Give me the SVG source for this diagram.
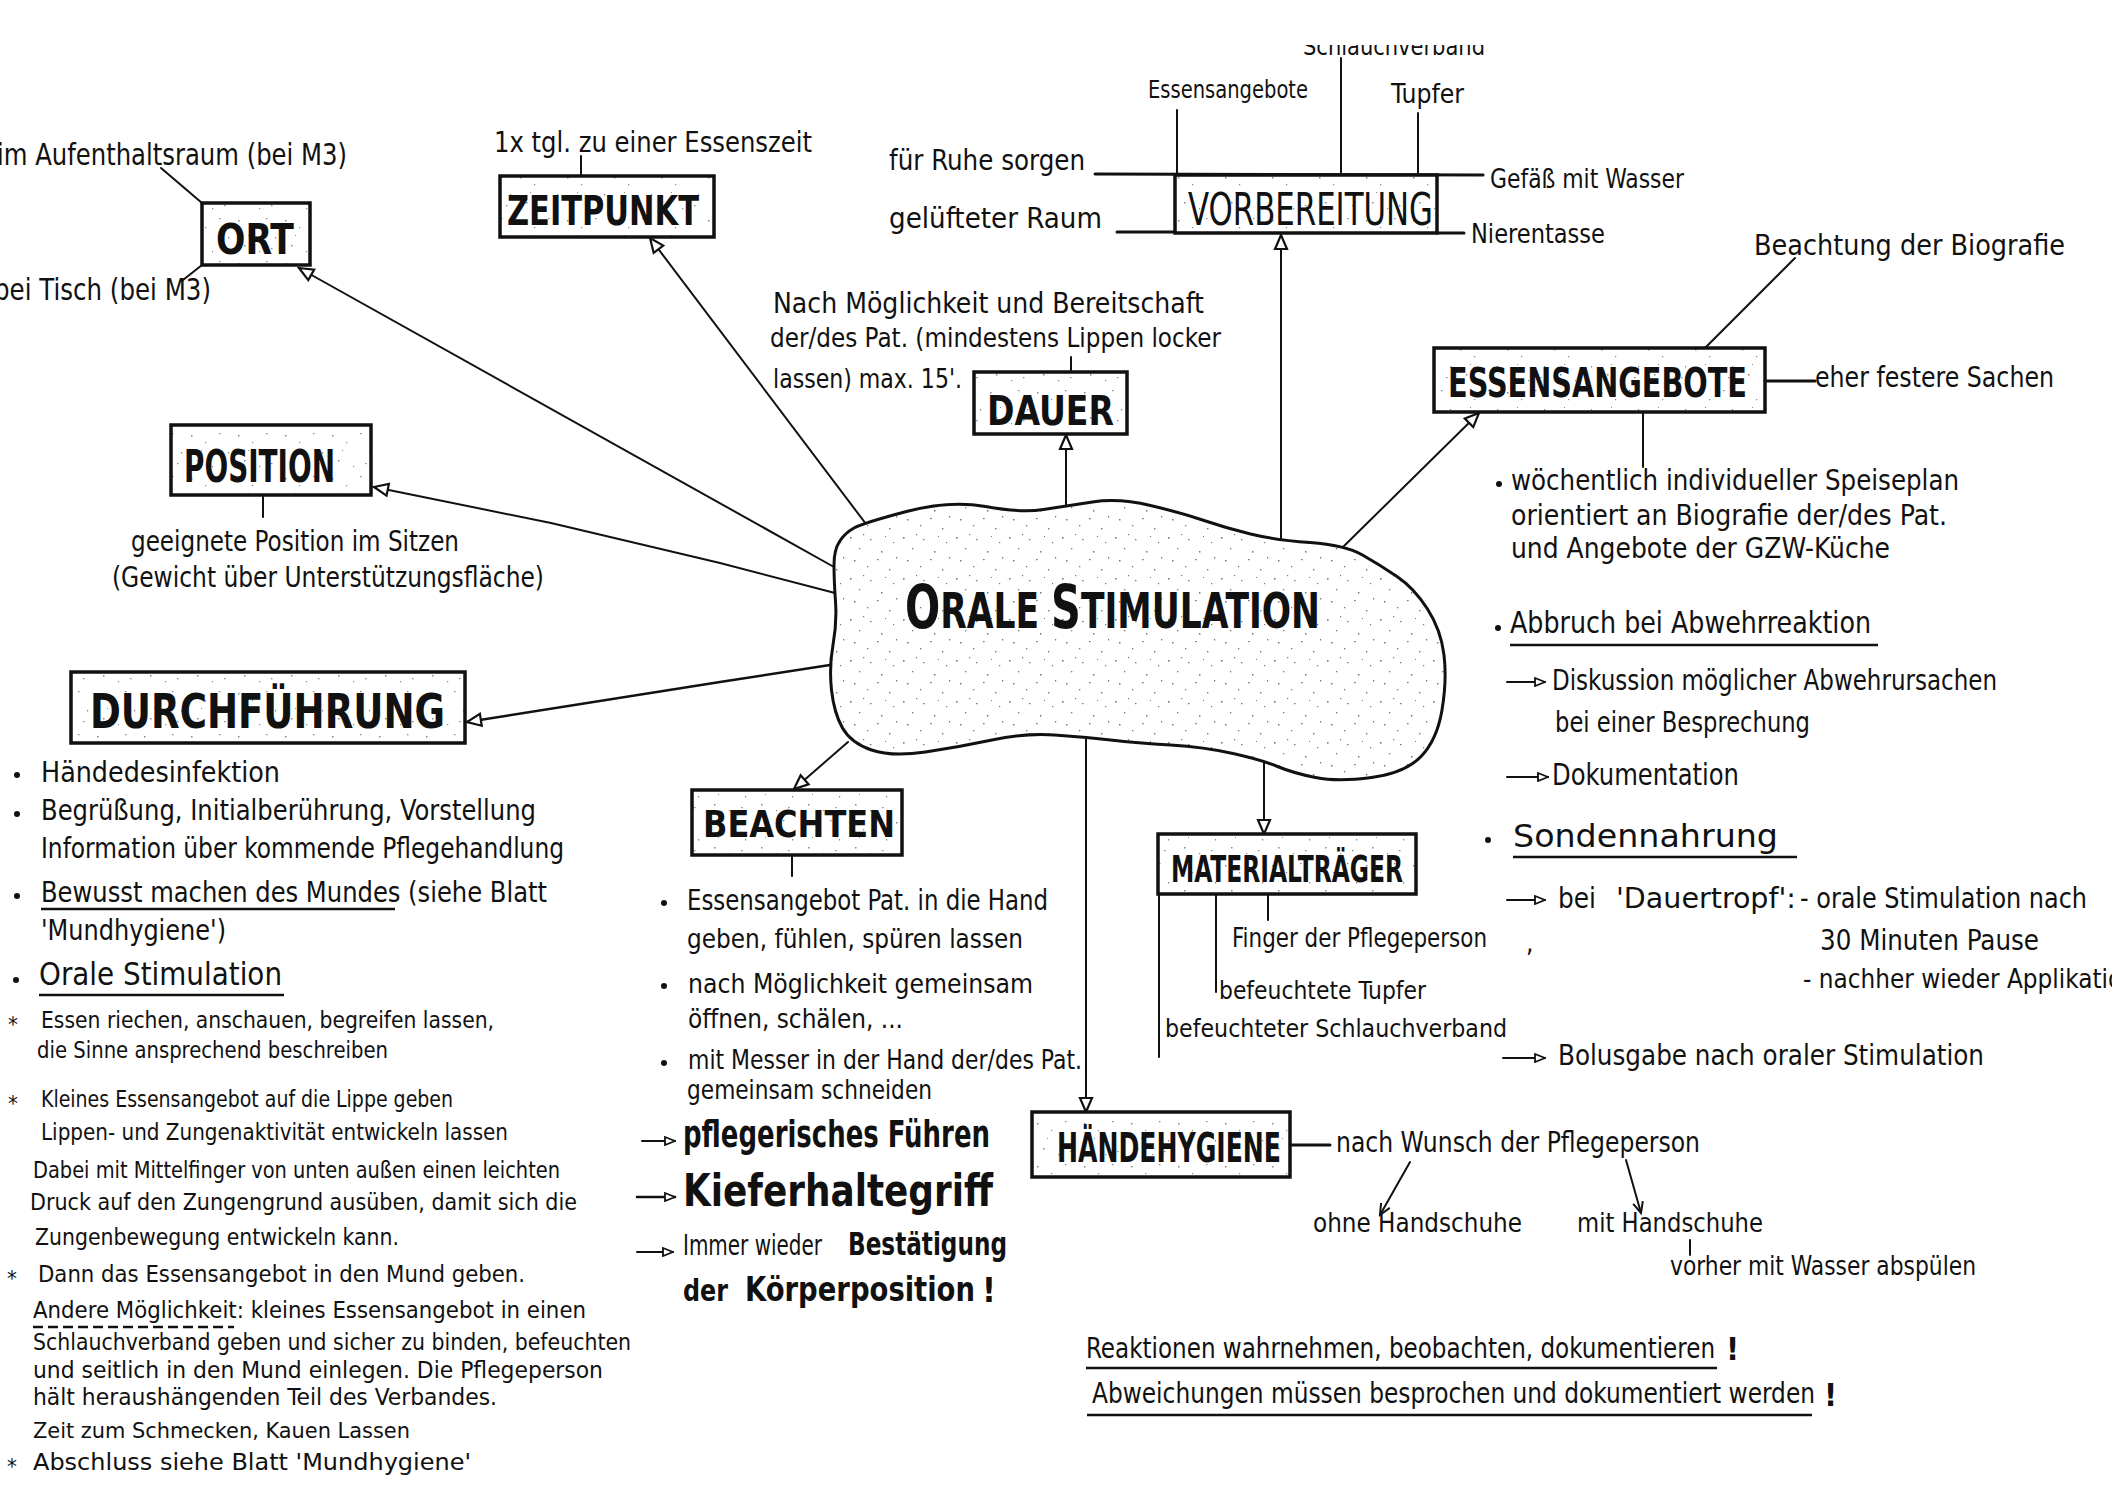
<svg xmlns="http://www.w3.org/2000/svg" width="2112" height="1485" viewBox="0 0 2112 1485">
<style>
.t{font-family:"DejaVu Sans Condensed","DejaVu Sans","Liberation Sans",sans-serif;fill:#111}
.b{font-family:"DejaVu Sans Condensed","DejaVu Sans","Liberation Sans",sans-serif;fill:#111;font-weight:bold}
.ln{stroke:#111;stroke-width:2;fill:none;stroke-linecap:round}
.tk{stroke:#111;stroke-width:3;fill:none;stroke-linecap:round}
.box{fill:url(#speck);stroke:#111;stroke-width:3.5}
.ul{stroke:#111;stroke-width:2.5;fill:none}
</style>
<defs>
<pattern id="speck" width="47" height="43" patternUnits="userSpaceOnUse">
<rect width="47" height="43" fill="#fff"/>
<g fill="#888">
<rect x="3" y="5" width="1.5" height="1.5"/><rect x="17" y="12" width="1.2" height="1.2"/><rect x="31" y="3" width="1.5" height="1.2"/>
<rect x="40" y="22" width="1.2" height="1.5"/><rect x="9" y="30" width="1.5" height="1.5"/><rect x="24" y="36" width="1.2" height="1.2"/>
<rect x="36" y="33" width="1.5" height="1.2"/><rect x="13" y="20" width="1" height="1"/>
</g>
</pattern>
<pattern id="speck2" width="53" height="41" patternUnits="userSpaceOnUse">
<rect width="53" height="41" fill="#fff"/>
<g fill="#777">
<rect x="2" y="4" width="1.6" height="1.6"/><rect x="11" y="15" width="1.3" height="1.3"/><rect x="22" y="6" width="1.5" height="1.2"/>
<rect x="33" y="18" width="1.4" height="1.6"/><rect x="45" y="9" width="1.2" height="1.2"/><rect x="6" y="27" width="1.5" height="1.5"/>
<rect x="19" y="33" width="1.3" height="1.3"/><rect x="29" y="26" width="1.6" height="1.2"/><rect x="41" y="36" width="1.4" height="1.4"/>
<rect x="48" y="24" width="1.2" height="1.5"/><rect x="15" y="1" width="1.2" height="1.2"/><rect x="37" y="3" width="1" height="1"/>
</g>
</pattern>
<marker id="ah" markerWidth="18" markerHeight="16" refX="16" refY="8" orient="auto" markerUnits="userSpaceOnUse">
<path d="M2,2 L16,8 L2,14 Z" fill="#fff" stroke="#111" stroke-width="2.2"/>
</marker>
<marker id="ta" markerWidth="12" markerHeight="10" refX="11" refY="5" orient="auto" markerUnits="userSpaceOnUse">
<path d="M1,1 L11,5 L1,9 Z" fill="#fff" stroke="#111" stroke-width="1.8"/>
</marker>
<marker id="va" markerWidth="14" markerHeight="12" refX="12" refY="6" orient="auto" markerUnits="userSpaceOnUse">
<path d="M1,1 L12,6 L1,11" fill="none" stroke="#111" stroke-width="2"/>
</marker>
<clipPath id="topclip"><rect x="0" y="45" width="2112" height="1440"/></clipPath>
</defs>
<rect width="2112" height="1485" fill="#fff"/>

<g id="connectors">
<line class="ln" x1="834" y1="567" x2="299" y2="268" marker-end="url(#ah)"/>
<line class="ln" x1="866" y1="524" x2="650" y2="238" marker-end="url(#ah)"/>
<polyline class="ln" points="835,593 720,563 551,523 374,487" marker-end="url(#ah)"/>
<polyline class="ln" style="stroke-width:2.6" points="830,665 720,682 467,722" marker-end="url(#ah)"/>
<line class="ln" x1="1066" y1="507" x2="1066" y2="435" marker-end="url(#ah)"/>
<line class="ln" x1="1281" y1="539" x2="1281" y2="235" marker-end="url(#ah)"/>
<line class="ln" x1="1343" y1="547" x2="1479" y2="413" marker-end="url(#ah)"/>
<line class="ln" x1="848" y1="742" x2="794" y2="789" marker-end="url(#ah)"/>
<line class="ln" x1="1086" y1="738" x2="1086" y2="1112" marker-end="url(#ah)"/>
<line class="ln" x1="1264" y1="760" x2="1264" y2="834" marker-end="url(#ah)"/>
<line class="ln" x1="161" y1="168" x2="202" y2="203"/>
<line class="ln" x1="202" y1="265" x2="183" y2="280"/>
<line class="ln" x1="581" y1="156" x2="581" y2="176"/>
<line class="ln" x1="263" y1="495" x2="263" y2="517"/>
<line class="ln" x1="1071" y1="357" x2="1071" y2="372"/>
<line class="tk" x1="1095" y1="174" x2="1483" y2="175"/>
<line class="tk" x1="1117" y1="232" x2="1175" y2="232"/>
<line class="tk" x1="1437" y1="233" x2="1464" y2="233"/>
<line class="ln" x1="1177" y1="110" x2="1177" y2="175"/>
<line class="ln" x1="1341" y1="58" x2="1341" y2="175"/>
<line class="ln" x1="1418" y1="113" x2="1418" y2="175"/>
<line class="ln" x1="1704" y1="349" x2="1795" y2="258"/>
<line class="tk" x1="1766" y1="381" x2="1815" y2="381"/>
<line class="ln" x1="1643" y1="412" x2="1643" y2="467"/>
<line class="ln" x1="1268" y1="894" x2="1268" y2="920"/>
<line class="ln" x1="1216" y1="894" x2="1216" y2="992"/>
<line class="ln" x1="1159" y1="894" x2="1159" y2="1057"/>
<line class="tk" x1="1290" y1="1145" x2="1330" y2="1145"/>
<line class="ln" x1="1410" y1="1162" x2="1380" y2="1215" marker-end="url(#va)"/>
<line class="ln" x1="1626" y1="1160" x2="1641" y2="1213" marker-end="url(#va)"/>
<line class="ln" x1="1690" y1="1240" x2="1690" y2="1255"/>
<line class="ln" x1="792" y1="855" x2="792" y2="876"/>
<line class="ln" x1="1507" y1="682" x2="1545" y2="682" marker-end="url(#ta)"/>
<line class="ln" x1="1507" y1="777" x2="1548" y2="777" marker-end="url(#ta)"/>
<line class="ln" x1="1507" y1="900" x2="1545" y2="900" marker-end="url(#ta)"/>
<line class="ln" x1="1503" y1="1058" x2="1545" y2="1058" marker-end="url(#ta)"/>
<line class="ln" x1="642" y1="1141" x2="675" y2="1141" marker-end="url(#ta)"/>
<line class="ln" style="stroke-width:2.6" x1="637" y1="1197" x2="675" y2="1197" marker-end="url(#ta)"/>
<line class="ln" x1="637" y1="1252" x2="673" y2="1252" marker-end="url(#ta)"/>
</g>

<g id="n-center">
<path fill="url(#speck2)" stroke="#111" stroke-width="3" d="M854,528 Q863,523 906.5,511.5 Q950,500 985.5,506.5 Q1021,513 1043.5,509.5 Q1066,506 1092.5,502 Q1119,498 1150.5,505.5 Q1182,513 1204,520.5 Q1226,528 1250.5,534 Q1275,540 1310,542.5 Q1345,545 1362.5,555 Q1380,565 1397,576.5 Q1414,588 1427.5,609 Q1441,630 1444,655 Q1447,680 1442,710 Q1437,740 1421,756.5 Q1405,773 1371.5,777.5 Q1338,782 1315.5,777.5 Q1293,773 1277.5,766.5 Q1262,760 1233,753.5 Q1204,747 1170.5,745 Q1137,743 1110.5,740 Q1084,737 1054.5,735 Q1025,733 992,740 Q959,747 925.5,752 Q892,757 871.5,750 Q851,743 842.5,728 Q834,713 831.5,690 Q829,667 833,645 Q837,623 835.5,601.5 Q834,580 834,565 Q834,550 839.5,541.5 Q845,533 854,528 Z"/>
<text class="b" x="905" y="628" textLength="415" lengthAdjust="spacingAndGlyphs"><tspan font-size="60">O</tspan><tspan font-size="50">RALE </tspan><tspan font-size="60">S</tspan><tspan font-size="50">TIMULATION</tspan></text>
</g>

<g id="n-ort">
<rect class="box" x="202" y="203" width="108" height="62"/>
<text class="b" x="216" y="254" font-size="42" textLength="78" lengthAdjust="spacingAndGlyphs">ORT</text>
<text class="t" x="-3" y="165" font-size="30" textLength="350" lengthAdjust="spacingAndGlyphs">im Aufenthaltsraum (bei M3)</text>
<text class="t" x="-6" y="300" font-size="30" textLength="217" lengthAdjust="spacingAndGlyphs">bei Tisch (bei M3)</text>
</g>

<g id="n-zeitpunkt">
<rect class="box" x="500" y="176" width="214" height="61"/>
<text class="b" x="507" y="225" font-size="40" textLength="192" lengthAdjust="spacingAndGlyphs">ZEITPUNKT</text>
<text class="t" x="494" y="152" font-size="28" textLength="318" lengthAdjust="spacingAndGlyphs">1x tgl. zu einer Essenszeit</text>
</g>

<g id="n-position">
<rect class="box" x="171" y="425" width="200" height="70"/>
<text class="b" x="184" y="482" font-size="44" textLength="151" lengthAdjust="spacingAndGlyphs">POSITION</text>
<text class="t" x="131" y="551" font-size="28" textLength="328" lengthAdjust="spacingAndGlyphs">geeignete Position im Sitzen</text>
<text class="t" x="112" y="587" font-size="28" textLength="432" lengthAdjust="spacingAndGlyphs">(Gewicht über Unterstützungsfläche)</text>
</g>

<g id="n-durchfuehrung">
<rect class="box" x="71" y="672" width="394" height="71"/>
<text class="b" x="90" y="728" font-size="48" textLength="355" lengthAdjust="spacingAndGlyphs">DURCHFÜHRUNG</text>
<g fill="#111"><circle cx="17" cy="775" r="3"/><circle cx="17" cy="814" r="3"/><circle cx="17" cy="896" r="3"/><circle cx="16" cy="980" r="3"/></g>
<text class="t" x="41" y="782" font-size="28" textLength="239" lengthAdjust="spacingAndGlyphs">Händedesinfektion</text>
<text class="t" x="41" y="820" font-size="28" textLength="495" lengthAdjust="spacingAndGlyphs">Begrüßung, Initialberührung, Vorstellung</text>
<text class="t" x="41" y="858" font-size="28" textLength="523" lengthAdjust="spacingAndGlyphs">Information über kommende Pflegehandlung</text>
<text class="t" x="41" y="902" font-size="28" textLength="506" lengthAdjust="spacingAndGlyphs">Bewusst machen des Mundes (siehe Blatt</text>
<line class="ul" x1="41" y1="909" x2="395" y2="909"/>
<text class="t" x="41" y="940" font-size="28" textLength="185" lengthAdjust="spacingAndGlyphs">'Mundhygiene')</text>
<text class="t" x="39" y="985" font-size="32" textLength="243" lengthAdjust="spacingAndGlyphs">Orale Stimulation</text>
<line class="ul" x1="39" y1="995" x2="284" y2="995"/>
<text class="t" x="8" y="1032" font-size="22">*</text>
<text class="t" x="41" y="1028" font-size="23" textLength="453" lengthAdjust="spacingAndGlyphs">Essen riechen, anschauen, begreifen lassen,</text>
<text class="t" x="37" y="1058" font-size="23" textLength="351" lengthAdjust="spacingAndGlyphs">die Sinne ansprechend beschreiben</text>
<text class="t" x="8" y="1111" font-size="22">*</text>
<text class="t" x="41" y="1107" font-size="23" textLength="412" lengthAdjust="spacingAndGlyphs">Kleines Essensangebot auf die Lippe geben</text>
<text class="t" x="41" y="1140" font-size="23" textLength="467" lengthAdjust="spacingAndGlyphs">Lippen- und Zungenaktivität entwickeln lassen</text>
<text class="t" x="33" y="1178" font-size="23" textLength="527" lengthAdjust="spacingAndGlyphs">Dabei mit Mittelfinger von unten außen einen leichten</text>
<text class="t" x="30" y="1210" font-size="23" textLength="547" lengthAdjust="spacingAndGlyphs">Druck auf den Zungengrund ausüben, damit sich die</text>
<text class="t" x="35" y="1245" font-size="23" textLength="364" lengthAdjust="spacingAndGlyphs">Zungenbewegung entwickeln kann.</text>
<text class="t" x="7" y="1286" font-size="22">*</text>
<text class="t" x="38" y="1282" font-size="23" textLength="487" lengthAdjust="spacingAndGlyphs">Dann das Essensangebot in den Mund geben.</text>
<text class="t" x="33" y="1318" font-size="23" textLength="553" lengthAdjust="spacingAndGlyphs">Andere Möglichkeit: kleines Essensangebot in einen</text>
<line class="ul" x1="33" y1="1327" x2="234" y2="1327" stroke-dasharray="10,5"/>
<text class="t" x="33" y="1350" font-size="23" textLength="598" lengthAdjust="spacingAndGlyphs">Schlauchverband geben und sicher zu binden, befeuchten</text>
<text class="t" x="33" y="1378" font-size="23" textLength="570" lengthAdjust="spacingAndGlyphs">und seitlich in den Mund einlegen. Die Pflegeperson</text>
<text class="t" x="33" y="1405" font-size="23" textLength="464" lengthAdjust="spacingAndGlyphs">hält heraushängenden Teil des Verbandes.</text>
<text class="t" x="33" y="1438" font-size="22" textLength="377" lengthAdjust="spacingAndGlyphs">Zeit zum Schmecken, Kauen Lassen</text>
<text class="t" x="7" y="1474" font-size="22">*</text>
<text class="t" x="33" y="1470" font-size="23" textLength="438" lengthAdjust="spacingAndGlyphs">Abschluss siehe Blatt 'Mundhygiene'</text>
</g>

<g id="n-vorbereitung">
<rect class="box" x="1175" y="175" width="262" height="58"/>
<text class="t" x="1188" y="225" font-size="44" textLength="245" lengthAdjust="spacingAndGlyphs">VORBEREITUNG</text>
<text class="t" x="889" y="170" font-size="28" textLength="196" lengthAdjust="spacingAndGlyphs">für Ruhe sorgen</text>
<text class="t" x="889" y="228" font-size="28" textLength="213" lengthAdjust="spacingAndGlyphs">gelüfteter Raum</text>
<text class="t" x="1148" y="98" font-size="24" textLength="160" lengthAdjust="spacingAndGlyphs">Essensangebote</text>
<text class="t" x="1303" y="55" font-size="24" textLength="182" lengthAdjust="spacingAndGlyphs" clip-path="url(#topclip)">Schlauchverband</text>
<text class="t" x="1391" y="103" font-size="26" textLength="73" lengthAdjust="spacingAndGlyphs">Tupfer</text>
<text class="t" x="1490" y="188" font-size="26" textLength="194" lengthAdjust="spacingAndGlyphs">Gefäß mit Wasser</text>
<text class="t" x="1471" y="243" font-size="26" textLength="134" lengthAdjust="spacingAndGlyphs">Nierentasse</text>
</g>

<g id="n-dauer">
<rect class="box" x="974" y="372" width="153" height="62"/>
<text class="b" x="987" y="425" font-size="40" textLength="127" lengthAdjust="spacingAndGlyphs">DAUER</text>
<text class="t" x="773" y="313" font-size="28" textLength="431" lengthAdjust="spacingAndGlyphs">Nach Möglichkeit und Bereitschaft</text>
<text class="t" x="770" y="347" font-size="26" textLength="451" lengthAdjust="spacingAndGlyphs">der/des Pat. (mindestens Lippen locker</text>
<text class="t" x="773" y="388" font-size="26" textLength="189" lengthAdjust="spacingAndGlyphs">lassen) max. 15'.</text>
</g>

<g id="n-essensangebote">
<rect class="box" x="1434" y="348" width="331" height="64"/>
<text class="b" x="1448" y="397" font-size="40" textLength="299" lengthAdjust="spacingAndGlyphs">ESSENSANGEBOTE</text>
<text class="t" x="1754" y="255" font-size="28" textLength="311" lengthAdjust="spacingAndGlyphs">Beachtung der Biografie</text>
<text class="t" x="1815" y="387" font-size="28" textLength="239" lengthAdjust="spacingAndGlyphs">eher festere Sachen</text>
<circle cx="1499" cy="484" r="3" fill="#111"/>
<text class="t" x="1511" y="490" font-size="28" textLength="448" lengthAdjust="spacingAndGlyphs">wöchentlich individueller Speiseplan</text>
<text class="t" x="1511" y="525" font-size="28" textLength="436" lengthAdjust="spacingAndGlyphs">orientiert an Biografie der/des Pat.</text>
<text class="t" x="1511" y="558" font-size="28" textLength="379" lengthAdjust="spacingAndGlyphs">und Angebote der GZW-Küche</text>
</g>

<g id="n-hinweise">
<circle cx="1498" cy="628" r="3" fill="#111"/>
<text class="t" x="1510" y="633" font-size="30" textLength="361" lengthAdjust="spacingAndGlyphs">Abbruch bei Abwehrreaktion</text>
<line class="ul" x1="1510" y1="645" x2="1878" y2="645"/>
<text class="t" x="1552" y="690" font-size="28" textLength="445" lengthAdjust="spacingAndGlyphs">Diskussion möglicher Abwehrursachen</text>
<text class="t" x="1555" y="732" font-size="28" textLength="255" lengthAdjust="spacingAndGlyphs">bei einer Besprechung</text>
<text class="t" x="1552" y="785" font-size="30" textLength="187" lengthAdjust="spacingAndGlyphs">Dokumentation</text>
<circle cx="1488" cy="840" r="3" fill="#111"/>
<text class="t" x="1513" y="847" font-size="32" textLength="265" lengthAdjust="spacingAndGlyphs">Sondennahrung</text>
<line class="ul" x1="1513" y1="857" x2="1797" y2="857"/>
<text class="t" x="1558" y="908" font-size="28" textLength="38" lengthAdjust="spacingAndGlyphs">bei</text>
<text class="t" x="1616" y="908" font-size="28" textLength="180" lengthAdjust="spacingAndGlyphs">'Dauertropf':</text>
<text class="t" x="1800" y="908" font-size="28" textLength="287" lengthAdjust="spacingAndGlyphs">- orale Stimulation nach</text>
<text class="t" x="1820" y="950" font-size="28" textLength="219" lengthAdjust="spacingAndGlyphs">30 Minuten Pause</text>
<text class="t" x="1803" y="988" font-size="26" textLength="334" lengthAdjust="spacingAndGlyphs">- nachher wieder Applikation</text>
<text class="t" x="1526" y="952" font-size="26">,</text>
<text class="t" x="1558" y="1065" font-size="28" textLength="426" lengthAdjust="spacingAndGlyphs">Bolusgabe nach oraler Stimulation</text>
</g>

<g id="n-materialtraeger">
<rect class="box" x="1158" y="834" width="258" height="60"/>
<text class="b" x="1171" y="882" font-size="38" textLength="232" lengthAdjust="spacingAndGlyphs">MATERIALTRÄGER</text>
<text class="t" x="1232" y="947" font-size="26" textLength="255" lengthAdjust="spacingAndGlyphs">Finger der Pflegeperson</text>
<text class="t" x="1219" y="999" font-size="24" textLength="207" lengthAdjust="spacingAndGlyphs">befeuchtete Tupfer</text>
<text class="t" x="1165" y="1037" font-size="24" textLength="342" lengthAdjust="spacingAndGlyphs">befeuchteter Schlauchverband</text>
</g>

<g id="n-haendehygiene">
<rect class="box" x="1032" y="1112" width="258" height="65"/>
<text class="b" x="1057" y="1162" font-size="40" textLength="224" lengthAdjust="spacingAndGlyphs">HÄNDEHYGIENE</text>
<text class="t" x="1336" y="1152" font-size="28" textLength="364" lengthAdjust="spacingAndGlyphs">nach Wunsch der Pflegeperson</text>
<text class="t" x="1313" y="1232" font-size="26" textLength="209" lengthAdjust="spacingAndGlyphs">ohne Handschuhe</text>
<text class="t" x="1577" y="1232" font-size="26" textLength="186" lengthAdjust="spacingAndGlyphs">mit Handschuhe</text>
<text class="t" x="1670" y="1275" font-size="26" textLength="306" lengthAdjust="spacingAndGlyphs">vorher mit Wasser abspülen</text>
</g>

<g id="n-beachten">
<rect class="box" x="692" y="790" width="210" height="65"/>
<text class="b" x="703" y="837" font-size="38" textLength="192" lengthAdjust="spacingAndGlyphs">BEACHTEN</text>
<g fill="#111"><circle cx="664" cy="903" r="3"/><circle cx="664" cy="986" r="3"/><circle cx="664" cy="1063" r="3"/></g>
<text class="t" x="687" y="910" font-size="28" textLength="361" lengthAdjust="spacingAndGlyphs">Essensangebot Pat. in die Hand</text>
<text class="t" x="687" y="948" font-size="27" textLength="336" lengthAdjust="spacingAndGlyphs">geben, fühlen, spüren lassen</text>
<text class="t" x="688" y="993" font-size="27" textLength="345" lengthAdjust="spacingAndGlyphs">nach Möglichkeit gemeinsam</text>
<text class="t" x="688" y="1028" font-size="27" textLength="215" lengthAdjust="spacingAndGlyphs">öffnen, schälen, ...</text>
<text class="t" x="688" y="1069" font-size="27" textLength="394" lengthAdjust="spacingAndGlyphs">mit Messer in der Hand der/des Pat.</text>
<text class="t" x="687" y="1099" font-size="27" textLength="245" lengthAdjust="spacingAndGlyphs">gemeinsam schneiden</text>
<text class="b" x="683" y="1147" font-size="38" textLength="307" lengthAdjust="spacingAndGlyphs">pflegerisches Führen</text>
<text class="b" x="683" y="1206" font-size="44" textLength="310" lengthAdjust="spacingAndGlyphs">Kieferhaltegriff</text>
<text class="t" x="683" y="1255" font-size="28" textLength="139" lengthAdjust="spacingAndGlyphs">Immer wieder</text>
<text class="b" x="848" y="1255" font-size="32" textLength="159" lengthAdjust="spacingAndGlyphs">Bestätigung</text>
<text class="b" x="683" y="1301" font-size="30" textLength="45" lengthAdjust="spacingAndGlyphs">der</text>
<text class="b" x="745" y="1301" font-size="33" textLength="230" lengthAdjust="spacingAndGlyphs">Körperposition</text>
<text class="b" x="982" y="1302" font-size="34">!</text>
</g>

<g id="n-hinweis-unten">
<text class="t" x="1086" y="1358" font-size="28" textLength="629" lengthAdjust="spacingAndGlyphs">Reaktionen wahrnehmen, beobachten, dokumentieren</text>
<text class="b" x="1726" y="1360" font-size="32">!</text>
<line class="ul" x1="1086" y1="1368" x2="1717" y2="1368"/>
<text class="t" x="1092" y="1403" font-size="28" textLength="723" lengthAdjust="spacingAndGlyphs">Abweichungen müssen besprochen und dokumentiert werden</text>
<text class="b" x="1824" y="1406" font-size="32">!</text>
<line class="ul" x1="1087" y1="1415" x2="1812" y2="1415"/>
</g>
</svg>
